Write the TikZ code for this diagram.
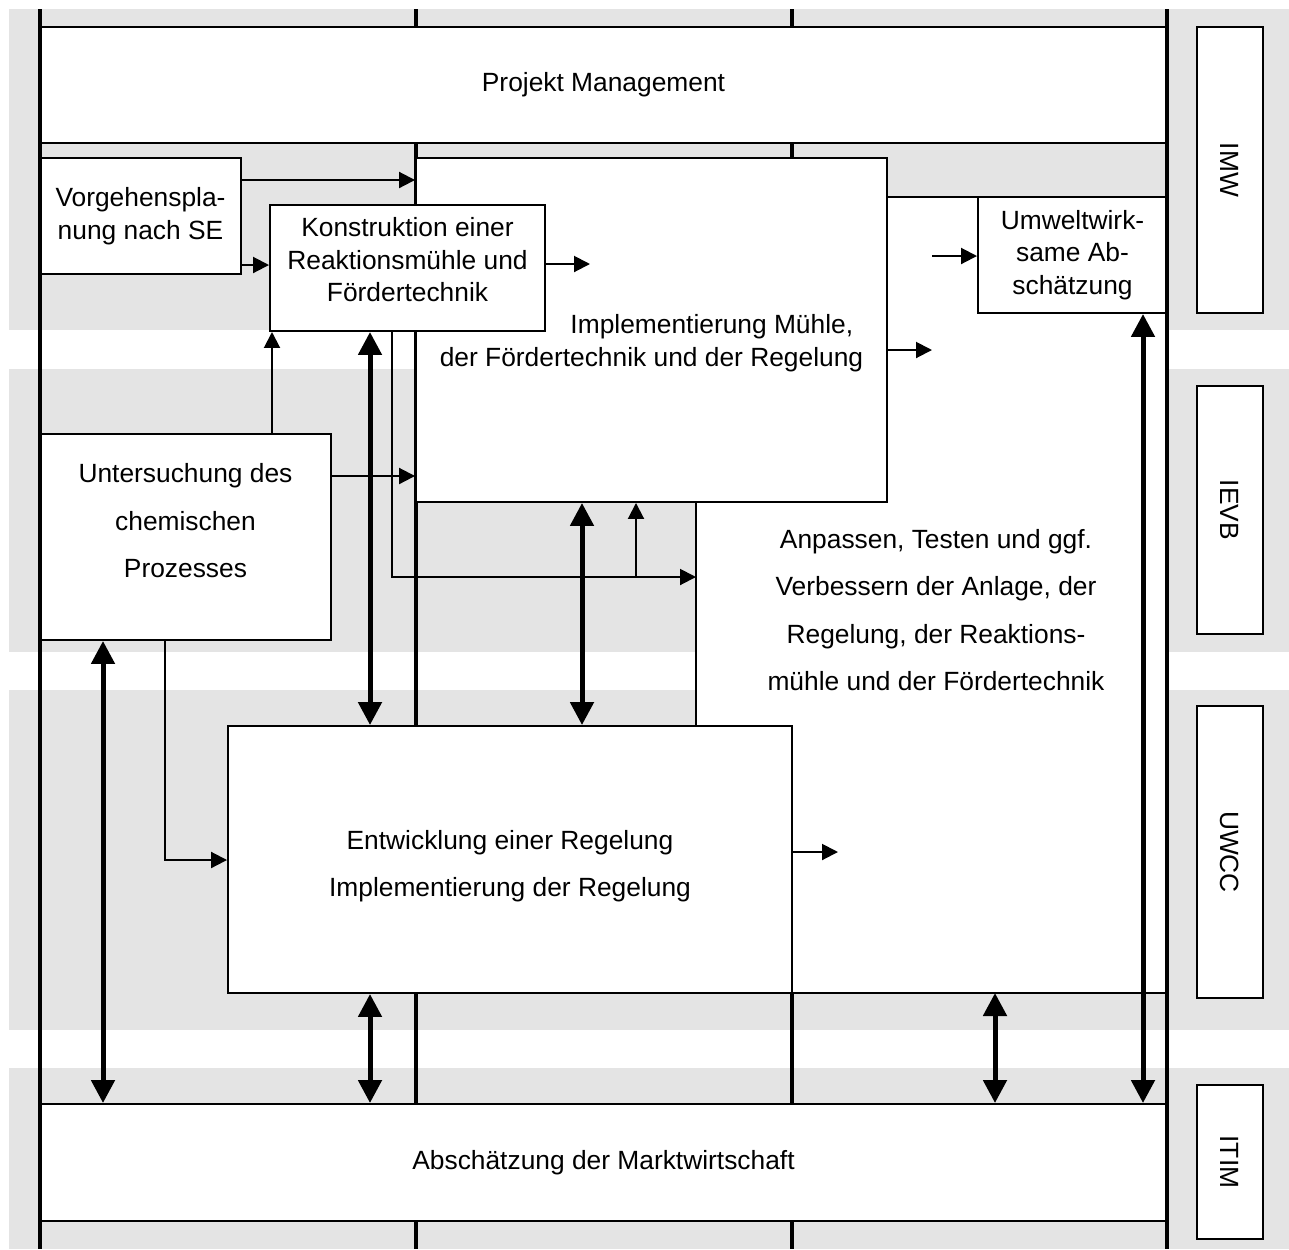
\documentclass[tikz,border=0pt]{standalone}
\usepackage{fontspec}
\setmainfont{Liberation Sans}
\usetikzlibrary{arrows.meta}
\definecolor{lanegray}{RGB}{228,228,228}

\begin{document}
\begin{tikzpicture}[x=0.02cm, y=-0.02cm,
    lane/.style={fill=lanegray},
    pipe/.style={line width=0.09cm},
    tight/.style={font=\fontsize{15}{18.5}\selectfont},
    loose/.style={font=\fontsize{15}{27}\selectfont},
    box/.style={draw, fill=white, line width=0.04cm, inner sep=0pt, align=center, tight},
    txt/.style={inner sep=0pt, align=center, tight},
    flow/.style={line width=0.04cm, -{Triangle[length=0.32cm, width=0.32cm]}},
    link/.style={line width=0.1cm, {Triangle[length=0.46cm, width=0.46cm]}-{Triangle[length=0.46cm, width=0.46cm]}}]
  \useasboundingbox (0,0) rectangle (1289,1249);

  % lanes and partner columns
  \foreach \t/\b in {9/330, 369/652, 690/1030, 1068/1249}
    \fill[lane] (9,\t) rectangle (1289,\b);
  \foreach \x in {416,792}
    \draw[pipe] (\x,9) -- (\x,1249);

  % test area
  \filldraw[fill=white, line width=0.04cm] (887,197) -- (1167,197) -- (1167,993) -- (792,993)
    -- (792,726) -- (696,726) -- (696,502) -- (887,502) -- cycle;
  \node[txt, loose] (anpT) at (936,610) {Anpassen, Testen und ggf.\\Verbessern der Anlage, der\\Regelung, der Reaktions-\\mühle und der Fördertechnik};

  % work packages
  \node[box, minimum width=22.54cm, minimum height=2.32cm] (pm) at (603.5,85) {Projekt Management};
  \node[box, minimum width=4.02cm, minimum height=2.32cm] (vorg) at (140.5,216) {Vorgehenspla-\\nung nach SE};
  \node[box, minimum width=9.42cm, minimum height=6.88cm] (impl) at (651.5,330) {};
  \node[txt, align=right] (implT) at (651.5,343) {Implementierung Mühle,\hspace*{0.2cm}\\der Fördertechnik und der Regelung};
  \node[box, minimum width=5.5cm, minimum height=2.52cm] (konst) at (407.5,268) {};
  \node[txt] (konstT) at (407.5,260) {Konstruktion einer\\Reaktionsmühle und\\Fördertechnik};
  \node[box, minimum width=3.78cm, minimum height=2.32cm] (umw) at (1072.5,255) {Umweltwirk-\\same Ab-\\schätzung};
  \node[box, minimum width=5.82cm, minimum height=4.12cm] (unters) at (185.5,537) {};
  \node[txt, loose] (untersT) at (185.5,521) {Untersuchung des\\chemischen\\Prozesses};
  \node[box, minimum width=11.28cm, minimum height=5.34cm] (entw) at (510,859.5) {};
  \node[txt, loose] (entwT) at (510,866) {Entwicklung einer Regelung\\Implementierung der Regelung};
  \node[box, minimum width=22.54cm, minimum height=2.34cm] (markt) at (603.5,1162.5) {Abschätzung der Marktwirtschaft};

  % institutes
  \foreach \n/\y/\h in {IMW/170/5.72, IEVB/510/4.96, UWCC/852/5.84, ITIM/1162/3.08}
    \node[box, minimum width=1.32cm, minimum height=\h cm] (\n) at (1230,\y) {\rotatebox{-90}{\n}};

  \foreach \x in {40,1167}
    \draw[pipe] (\x,9) -- (\x,1249);

  % free ends
  \coordinate (konstOut) at (590,264);
  \coordinate (implOut) at (932,350);
  \coordinate (umwIn) at (932,256);
  \coordinate (entwOut) at (838,852);
  \coordinate (anpIn) at (696,577);
  \coordinate (fork) at (636,577);
  \coordinate (anpBase) at (995,993);

  % flows
  \draw[flow] (vorg.east |- 0,180) -- (impl.west |- 0,180);
  \draw[flow] (vorg.east |- 0,265) -- (konst.west |- 0,265);
  \draw[flow] (konst.east |- konstOut) -- (konstOut);
  \draw[flow] (unters.north -| 272,0) -- (konst.south -| 272,0);
  \draw[flow] (unters.east |- 0,476) -- (impl.west |- 0,476);
  \draw[flow] (konst.south -| 392,0) |- (anpIn);
  \draw[flow] (fork) -- (fork |- impl.south);
  \draw[flow] (unters.south -| 165,0) |- (entw.west |- 0,860);
  \draw[flow] (impl.east |- implOut) -- (implOut);
  \draw[flow] (umwIn) -- (umw.west |- umwIn);
  \draw[flow] (entw.east |- entwOut) -- (entwOut);

  % exchanges
  \draw[link] (konst.south -| 370,0) -- (entw.north -| 370,0);
  \draw[link] (impl.south -| 582,0) -- (entw.north -| 582,0);
  \draw[link] (unters.south -| 103,0) -- (markt.north -| 103,0);
  \draw[link] (entw.south -| 370,0) -- (markt.north -| 370,0);
  \draw[link] (anpBase) -- (markt.north -| anpBase);
  \draw[link] (umw.south -| 1143,0) -- (markt.north -| 1143,0);
\end{tikzpicture}
\end{document}
